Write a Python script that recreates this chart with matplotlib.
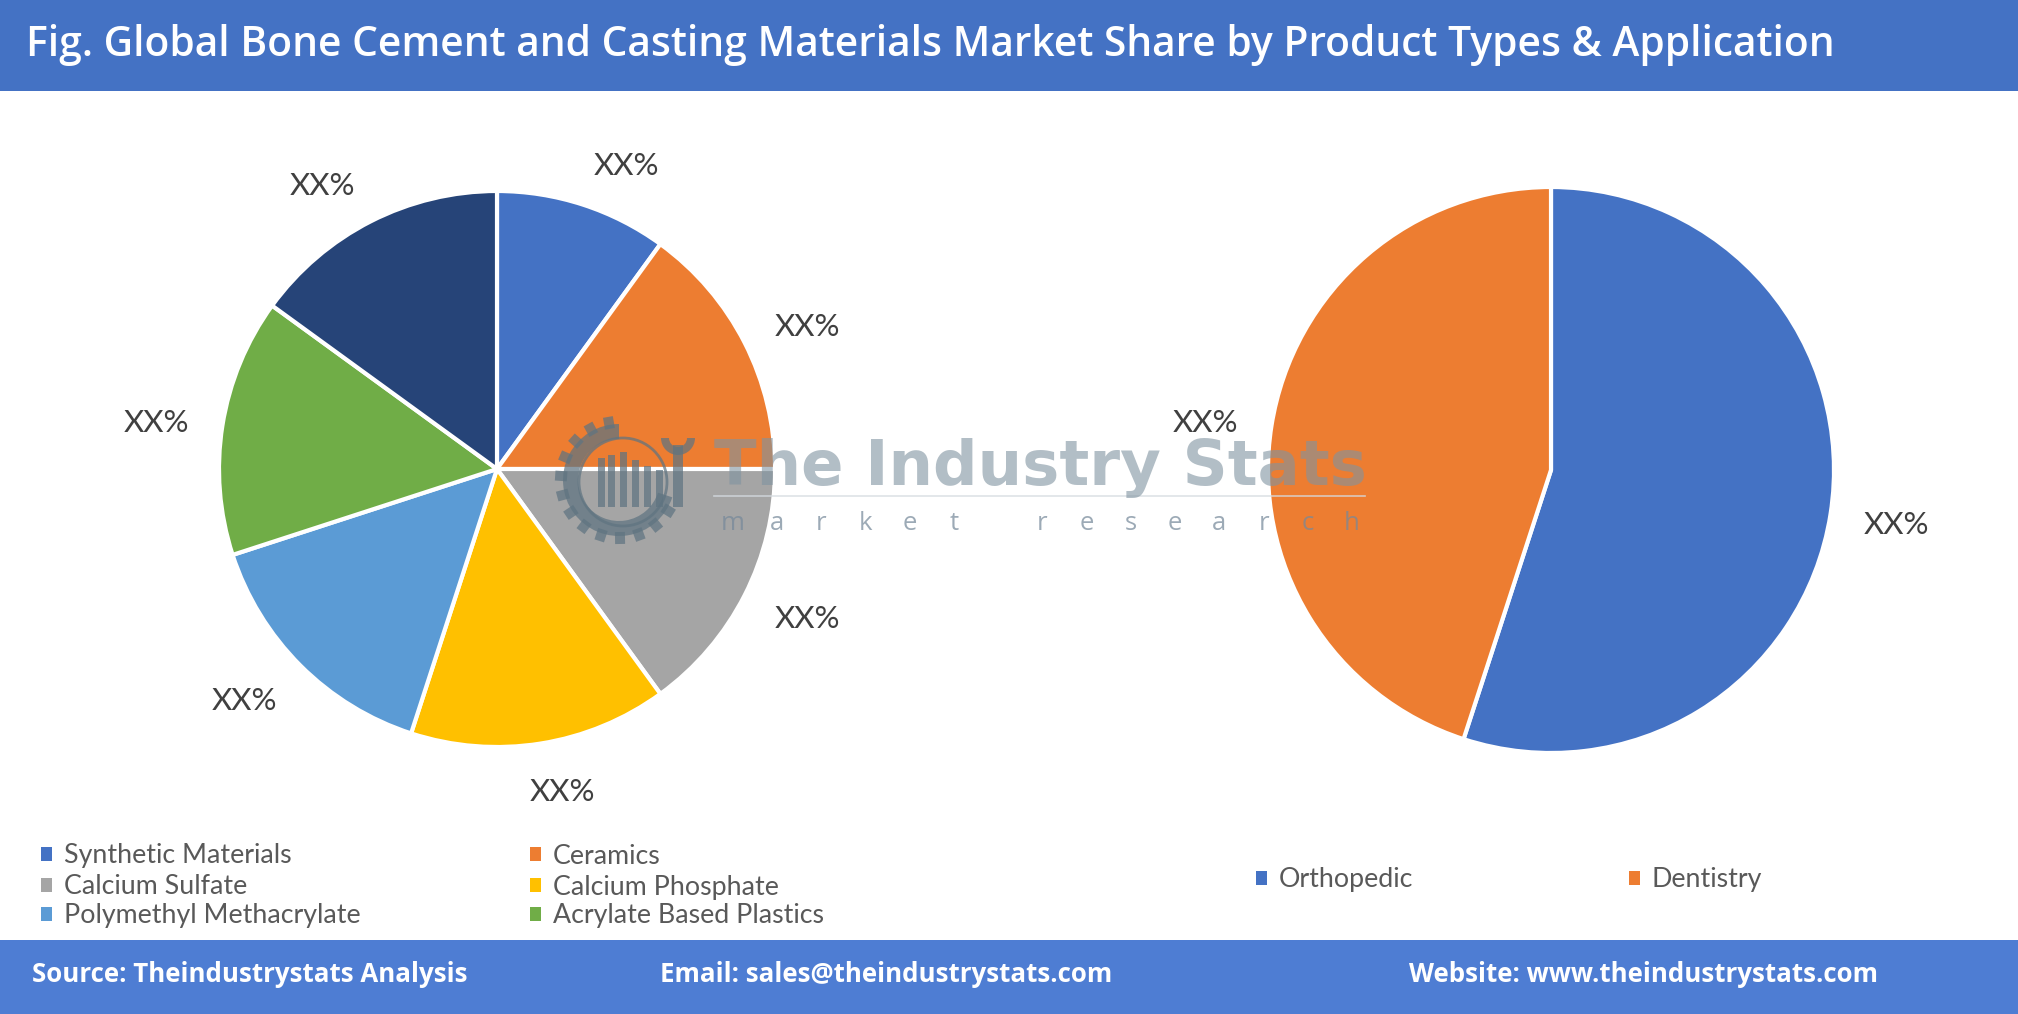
import matplotlib
matplotlib.use("Agg")
import numpy as np
import matplotlib.pyplot as plt
from matplotlib.patches import Rectangle, Patch, Circle, Wedge
from matplotlib.lines import Line2D
from matplotlib.transforms import Affine2D

# ---------------- data ----------------
product_types = ["Synthetic Materials", "Ceramics", "Calcium Sulfate", "Calcium Phosphate",
                 "Polymethyl Methacrylate", "Acrylate Based Plastics", "Others"]
product_shares = [10, 15, 15, 15, 15, 15, 15]
product_colors = ["#4472C4", "#ED7D31", "#A5A5A5", "#FFC000", "#5B9BD5", "#70AD47", "#264478"]

applications = ["Orthopedic", "Dentistry"]
application_shares = [55, 45]
application_colors = ["#4472C4", "#ED7D31"]

label_text = "XX%"
title = "Fig. Global Bone Cement and Casting Materials Market Share by Product Types & Application"
footer_items = ["Source: Theindustrystats Analysis", "Email: sales@theindustrystats.com",
                "Website: www.theindustrystats.com"]
watermark_main = "The Industry Stats"
watermark_sub = "market research"

# ---------------- figure ----------------
W, H = 2018, 1014
fig = plt.figure(figsize=(W / 100, H / 100), dpi=100)
fig.patch.set_facecolor("white")

def fx(px):
    return px / W

def fy(py):
    return 1 - py / H

# header & footer bands
fig.patches.append(Rectangle((0, fy(91)), 1, 91 / H, transform=fig.transFigure,
                             facecolor="#4472C4", edgecolor="none", zorder=0))
fig.patches.append(Rectangle((0, 0), 1, 74 / H, transform=fig.transFigure,
                             facecolor="#4E7DD3", edgecolor="none", zorder=0))
fig.text(fx(26), fy(45), title, color="white", fontsize=29.3, fontfamily="Open Sans",
         fontweight="semibold", va="center", ha="left")

footer_x = [32, 660, 1409]
for x, t in zip(footer_x, footer_items):
    fig.text(fx(x), fy(974), t, color="white", fontsize=18.6, fontfamily="Open Sans",
             fontweight="bold", va="center", ha="left")

LABEL_FONT = "Lato"
pies = []

def make_pie(cx, cy, r, values, colors, startangle=90):
    ax = fig.add_axes([fx(cx - r), fy(cy + r), 2 * r / W, 2 * r / H])
    wedges, texts = ax.pie(values, colors=colors, startangle=startangle, counterclock=False,
                           labels=[label_text] * len(values), labeldistance=1.12,
                           wedgeprops=dict(edgecolor="white", linewidth=3),
                           textprops=dict(fontsize=22.5, color="#404040", fontfamily=LABEL_FONT))
    ax.set_xlim(-1, 1)
    ax.set_ylim(-1, 1)
    ax.set_aspect("equal")
    ax.axis("off")
    pies.append((ax, r, texts))
    return ax, wedges

ax1, w1 = make_pie(497, 469, 278, product_shares, product_colors)
ax2, w2 = make_pie(1551, 470, 283, application_shares, application_colors)

# Excel-like outside-end label placement: shift label box away from the anchor point
fig.canvas.draw()
renderer = fig.canvas.get_renderer()
for ax, r, texts in pies:
    for t in texts:
        t.set_ha("center")
        t.set_va("center")
        bb = t.get_window_extent(renderer)
        w_d = bb.width / r
        h_d = 0.8 * bb.height / r
        x, y = t.get_position()
        norm = np.hypot(x, y)
        ux, uy = x / norm, y / norm
        dx = 0.5 * w_d * np.sign(ux) * min(1.0, abs(ux) / 0.3)
        dy = 0.5 * h_d * uy - 4.0 / r
        t.set_position((x + dx, y + dy))

def legend_entry(x, y, label, color):
    leg = fig.legend(handles=[Patch(facecolor=color, edgecolor="none")], labels=[label],
                     loc="center left", bbox_to_anchor=(fx(x), fy(y)), frameon=False,
                     handlelength=0.4, handleheight=0.4, handletextpad=0.45,
                     borderpad=0, borderaxespad=0,
                     prop=dict(family=LABEL_FONT, size=19.3))
    for t in leg.get_texts():
        t.set_color("#595959")
    return leg

left_cols = [41, 530]
left_rows = [856, 887, 916]
for i, (lab, col) in enumerate(zip(product_types[:6], product_colors[:6])):
    legend_entry(left_cols[i % 2], left_rows[i // 2], lab, col)

right_cols = [1256, 1629]
for i, (lab, col) in enumerate(zip(applications, application_colors)):
    legend_entry(right_cols[i], 880, lab, col)

# ---------------- watermark ----------------
wm_color = "#8093a0"
fig.text(fx(714), fy(462), watermark_main, fontsize=45, fontfamily="DejaVu Sans",
         fontweight="bold", color=wm_color, alpha=0.6, va="center_baseline", ha="left", zorder=10)
n = len(watermark_sub)
x0, x1 = 733, 1352
for i, ch in enumerate(watermark_sub):
    if ch == " ":
        continue
    xc = x0 + (x1 - x0) * i / (n - 1)
    fig.text(fx(xc), fy(520), ch, fontsize=18.5, fontfamily="Open Sans", fontweight="normal",
             color="#76899a", alpha=0.72, va="center_baseline", ha="center", zorder=10)
fig.lines.append(Line2D([fx(714), fx(1365)], [fy(496), fy(496)], transform=fig.transFigure,
                        color="#d5dbe0", linewidth=1.2, alpha=0.8, zorder=10))

# logo (gear + buildings + wrench), in pixel coords (x, -y)
axl = fig.add_axes([fx(540), fy(545), 170 / W, 135 / H], zorder=10)
axl.set_xlim(540, 710)
axl.set_ylim(-545, -410)
axl.set_aspect("equal")
axl.axis("off")
lc = "#5f7481"
la = 0.72
gcx, gcy = 619, -480
axl.add_patch(Wedge((gcx, gcy), 56, 90, 342, width=15, facecolor=lc, edgecolor="none", alpha=la))
for a in np.arange(100, 342, 19):
    tr = Affine2D().rotate_deg_around(gcx, gcy, a - 90)
    tooth = Rectangle((gcx - 5, gcy + 52), 10, 12, facecolor=lc, edgecolor="none", alpha=la)
    tooth.set_transform(tr + axl.transData)
    axl.add_patch(tooth)
axl.add_patch(Circle((gcx + 4, gcy - 2), 44, fill=False, edgecolor=lc, linewidth=2, alpha=la))
for bx, top in zip([598, 608, 620, 632, 644, 656], [458, 455, 452, 460, 466, 470]):
    axl.add_patch(Rectangle((bx, -507), 7, 507 - top, facecolor=lc, edgecolor="none", alpha=la))
# wrench
axl.add_patch(Wedge((678, -438), 17, 180, 360, width=8, facecolor=lc, edgecolor="none", alpha=la))
axl.add_patch(Rectangle((673, -507), 10, 62, facecolor=lc, edgecolor="none", alpha=la))

fig.savefig("out.png", dpi=100)
